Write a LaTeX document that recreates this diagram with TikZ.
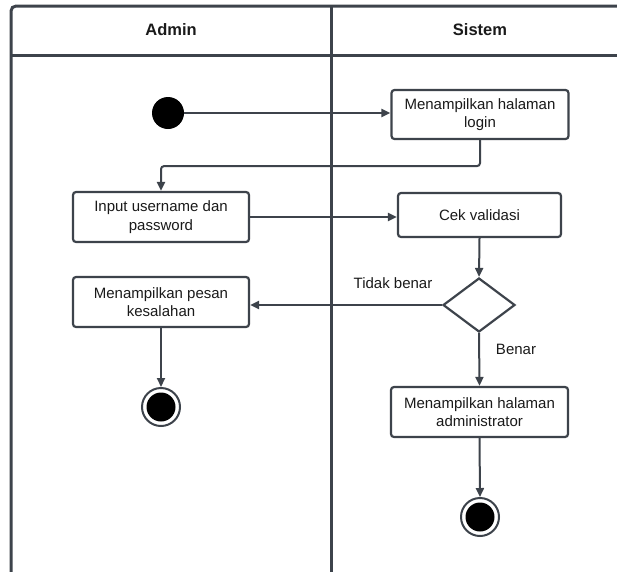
\documentclass[tikz,border=0pt]{standalone}
\usepackage{fontspec}
\setmainfont{Liberation Sans}
\usetikzlibrary{shapes.geometric,arrows.meta}
\definecolor{ink}{HTML}{3D434B}
\definecolor{txt}{HTML}{1A1A1A}
\tikzset{
  x=1pt, y=-1pt,
  lane/.style={draw=ink, line width=3pt},
  act/.style={draw=ink, line width=2.2pt, rounded corners=3pt, fill=white,
    align=center, text=txt, inner sep=0pt,
    font=\fontsize{15}{18.5}\selectfont},
  decide/.style={draw=ink, line width=2.2pt, diamond, fill=white, inner sep=0pt},
  flow/.style={draw=ink, line width=2pt, rounded corners=3pt,
    -{Triangle[length=9pt,width=8pt]}},
  guard/.style={text=txt, font=\fontsize{15}{18}\selectfont},
  lanehead/.style={text=txt, font=\fontsize{16.5}{18}\selectfont\bfseries},
  startdot/.style={circle, fill=black, minimum size=32pt, inner sep=0pt},
  enddot/.style={circle, draw=ink, line width=2pt, fill=white, minimum size=38pt,
    inner sep=0pt, path picture={\fill[black] (path picture bounding box.center) circle (14.5pt);}},
}
\begin{document}
\begin{tikzpicture}
\useasboundingbox (0,0) rectangle (617,571);

% swimlane frame
\draw[lane, rounded corners=5pt] (11,580) -- (11,6) -- (630,6);
\draw[lane] (11,55) -- (630,55);
\draw[lane] (331,6) -- (331,580);
\node[lanehead] (hadmin) at (171,30) {Admin};
\node[lanehead] (hsistem) at (480,30) {Sistem};

% activities
\node[startdot] (start) at (168,113) {};
\node[act, minimum width=177pt, minimum height=49pt] (login) at (480,114.5)
  {Menampilkan halaman\\login};
\node[act, minimum width=176pt, minimum height=50pt] (input) at (161,217)
  {Input username dan\\password};
\node[act, minimum width=163pt, minimum height=44pt] (cek) at (479.5,215)
  {Cek validasi};
\node[decide, minimum width=72pt, minimum height=54pt] (valid) at (479,305) {};
\node[act, minimum width=176pt, minimum height=50pt] (salah) at (161,302)
  {Menampilkan pesan\\kesalahan};
\node[act, minimum width=177pt, minimum height=50pt] (admin) at (479.5,412)
  {Menampilkan halaman\\administrator};
\node[enddot] (end1) at (161,407) {};
\node[enddot] (end2) at (480,517) {};

% flows
\draw[flow] (start.east) -- (start.east -| login.west);
\draw[flow] (login.south) -- ++(0,26) -| (input.north);
\draw[flow] (input.east) -- (input.east -| cek.west);
\draw[flow] (cek.south) -- (valid.north);
\draw[flow] (valid.west) -- (valid.west -| salah.east);
\draw[flow] (valid.south) -- (admin.north);
\draw[flow] (salah.south) -- (end1.north);
\draw[flow] (admin.south) -- (end2.north);

% guards
\node[guard] (tidak) at (393,283) {Tidak benar};
\node[guard] (benar) at (516,349) {Benar};
\end{tikzpicture}
\end{document}
